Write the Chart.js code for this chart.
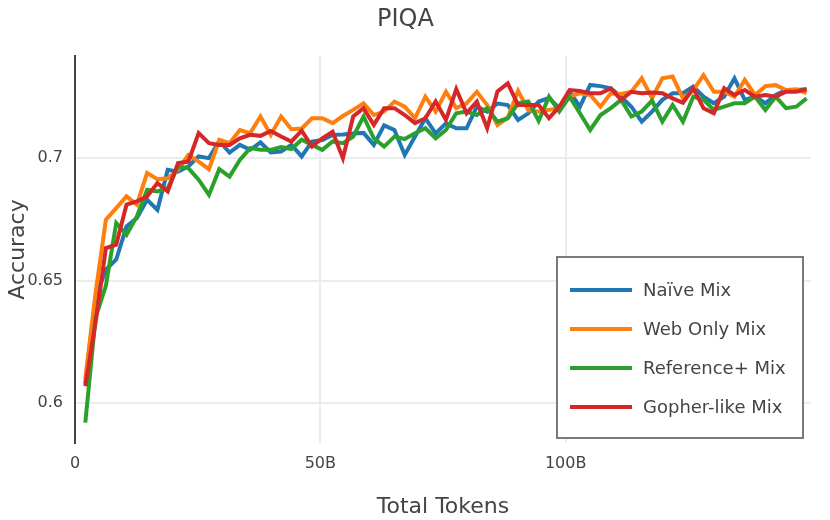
<!DOCTYPE html>
<html>
<head>
<meta charset="utf-8">
<script src="https://cdn.jsdelivr.net/npm/chart.js@4/dist/chart.umd.min.js"></script>
<style>
  html, body { margin: 0; padding: 0; background: #ffffff; }
  #wrap { width: 830px; height: 520px; }
</style>
</head>
<body>
<div id="wrap"><canvas id="c" width="830" height="520"></canvas></div>
<script>
const chartTitle = 'PIQA';
const xTitle = 'Total Tokens';
const yTitle = 'Accuracy';
const seriesNames = ['Naïve Mix', 'Web Only Mix', 'Reference+ Mix', 'Gopher-like Mix'];
const seriesColors = ['#1f77b4', '#ff7f0e', '#2ca02c', '#d62728'];

// Total tokens (billions) at each evaluation checkpoint
const tokens = [2.1, 4.2, 6.3, 8.4, 10.5, 12.6, 14.7, 16.8, 18.9, 21.0,
  23.1, 25.2, 27.3, 29.4, 31.5, 33.6, 35.7, 37.8, 39.9, 42.0,
  44.1, 46.2, 48.3, 50.4, 52.5, 54.6, 56.7, 58.8, 60.9, 63.0,
  65.1, 67.2, 69.3, 71.4, 73.5, 75.6, 77.7, 79.8, 81.9, 84.0,
  86.1, 88.2, 90.3, 92.4, 94.5, 96.6, 98.7, 100.8, 102.9, 105.0,
  107.1, 109.2, 111.3, 113.4, 115.5, 117.6, 119.7, 121.8, 123.9, 126.0,
  128.1, 130.2, 132.3, 134.4, 136.5, 138.6, 140.7, 142.8, 144.9, 147.0, 149.1];

const naiveMix = [0.608, 0.643, 0.6545, 0.6586, 0.6721, 0.6755, 0.683, 0.6789, 0.6952, 0.6945,
  0.6966, 0.7007, 0.700, 0.707, 0.7023, 0.7054, 0.7034, 0.7064, 0.7023, 0.7027,
  0.7054, 0.7007, 0.7068, 0.7074, 0.7095, 0.7097, 0.7101, 0.7103, 0.7054, 0.7134,
  0.7115, 0.7013, 0.7088, 0.7163, 0.7101, 0.7142, 0.7122, 0.7122, 0.721, 0.719,
  0.7223, 0.7217, 0.7156, 0.7183, 0.7231, 0.7245, 0.7204, 0.7271, 0.721, 0.7299,
  0.7294, 0.7285, 0.7251, 0.721, 0.7149, 0.719, 0.7238, 0.7265, 0.7265, 0.7292,
  0.7251, 0.7224, 0.7251, 0.7326, 0.7238, 0.7251, 0.7224, 0.7258, 0.7278, 0.7278, 0.7281];

const webOnlyMix = [0.610, 0.645, 0.6749, 0.6796, 0.6844, 0.681, 0.6939, 0.6914, 0.6918, 0.6952,
  0.7013, 0.6986, 0.6955, 0.7075, 0.7061, 0.7115, 0.7102, 0.717, 0.7095, 0.717,
  0.7118, 0.7121, 0.7163, 0.7163, 0.7143, 0.7172, 0.7197, 0.7224, 0.7176, 0.719,
  0.7231, 0.721, 0.7163, 0.7251, 0.719, 0.7271, 0.7204, 0.7224, 0.7271, 0.7217,
  0.7135, 0.7165, 0.7275, 0.7195, 0.719, 0.7197, 0.7204, 0.7251, 0.7265, 0.7258,
  0.721, 0.7265, 0.7262, 0.7271, 0.7326, 0.7245, 0.7326, 0.7333, 0.7244, 0.7278,
  0.7339, 0.7271, 0.7271, 0.7251, 0.7319, 0.7258, 0.7294, 0.7298, 0.7278, 0.7281, 0.7265];

const referencePlusMix = [0.592, 0.635, 0.648, 0.6735, 0.6687, 0.6762, 0.6871, 0.6864, 0.6878, 0.6966,
  0.6959, 0.6912, 0.685, 0.6955, 0.6925, 0.6993, 0.7041, 0.7034, 0.7034, 0.7045,
  0.7037, 0.7075, 0.7054, 0.7034, 0.7068, 0.7061, 0.7088, 0.717, 0.7081, 0.7047,
  0.7088, 0.7078, 0.7102, 0.7122, 0.7081, 0.7115, 0.7183, 0.719, 0.7176, 0.7204,
  0.7149, 0.7163, 0.7224, 0.7231, 0.7152, 0.7251, 0.719, 0.7251, 0.7183, 0.7115,
  0.7176, 0.7204, 0.7238, 0.717, 0.719, 0.7235, 0.7149, 0.7217, 0.7149, 0.7251,
  0.7238, 0.7197, 0.721, 0.7224, 0.7224, 0.7251, 0.7197, 0.7251, 0.7204, 0.721, 0.7244];

const gopherLikeMix = [0.6069, 0.633, 0.6633, 0.6647, 0.681, 0.6823, 0.6844, 0.6898, 0.6864, 0.698,
  0.6986, 0.7102, 0.7061, 0.7054, 0.7054, 0.7081, 0.7095, 0.7091, 0.7111, 0.7088,
  0.7068, 0.7112, 0.7047, 0.7081, 0.7108, 0.700, 0.717, 0.7204, 0.7136, 0.7204,
  0.7204, 0.7176, 0.7143, 0.7163, 0.7231, 0.7156, 0.7282, 0.7183, 0.7231, 0.7122,
  0.7272, 0.7305, 0.7217, 0.7217, 0.7217, 0.7163, 0.721, 0.7278, 0.7274, 0.7265,
  0.7265, 0.7285, 0.7238, 0.7271, 0.7265, 0.7268, 0.7265, 0.7244, 0.7226, 0.7285,
  0.7204, 0.7183, 0.7285, 0.7258, 0.7278, 0.7251, 0.7258, 0.7251, 0.7271, 0.7271, 0.7281];

const xTickValues = [0, 50, 100];
const xTickLabels = ['0', '50B', '100B'];
const yTickValues = [0.6, 0.65, 0.7];
const yTickLabels = ['0.6', '0.65', '0.7'];

const allSeries = [naiveMix, webOnlyMix, referencePlusMix, gopherLikeMix];

Chart.defaults.font.family = '"DejaVu Sans", Verdana, sans-serif';
Chart.defaults.color = '#444444';

const datasets = allSeries.map((vals, k) => ({
  label: seriesNames[k],
  data: vals.map((v, i) => ({ x: tokens[i], y: v })),
  borderColor: seriesColors[k],
  backgroundColor: seriesColors[k],
  borderWidth: 4,
  pointRadius: 0,
  tension: 0,
  fill: false,
  order: allSeries.length - 1 - k
}));

const boxLegend = {
  id: 'boxLegend',
  afterDraw(chart) {
    const ctx = chart.ctx;
    const bx = 557, by = 257, bw = 246, bh = 181;
    ctx.save();
    ctx.fillStyle = '#ffffff';
    ctx.fillRect(bx, by, bw, bh);
    ctx.strokeStyle = '#7a7a7a';
    ctx.lineWidth = 2;
    ctx.strokeRect(bx, by, bw, bh);
    ctx.font = '18px "DejaVu Sans", Verdana, sans-serif';
    ctx.textBaseline = 'middle';
    ctx.textAlign = 'left';
    seriesNames.forEach((name, k) => {
      const y = 290 + 39 * k;
      ctx.strokeStyle = seriesColors[k];
      ctx.lineWidth = 4;
      ctx.beginPath();
      ctx.moveTo(570, y);
      ctx.lineTo(632, y);
      ctx.stroke();
      ctx.fillStyle = '#444444';
      ctx.fillText(name, 643, y + 1);
    });
    ctx.restore();
  }
};

new Chart(document.getElementById('c'), {
  type: 'line',
  data: { datasets },
  plugins: [boxLegend],
  options: {
    responsive: false,
    animation: false,
    layout: { padding: { left: 0, right: 19, top: 0, bottom: 0 } },
    plugins: {
      legend: { display: false },
      tooltip: { enabled: false },
      title: {
        display: true,
        text: chartTitle,
        color: '#444444',
        font: { size: 24, weight: 'normal' },
        padding: { top: 5, bottom: 22.2 }
      }
    },
    scales: {
      x: {
        type: 'linear',
        min: 0,
        max: 150,
        afterBuildTicks: (scale) => { scale.ticks = xTickValues.map(v => ({ value: v })); },
        afterFit: (scale) => { scale.height = 77; },
        ticks: {
          callback: (v) => xTickLabels[xTickValues.indexOf(v)],
          font: { size: 16 },
          color: '#444444',
          padding: 11,
          maxRotation: 0
        },
        grid: { color: '#ececec', lineWidth: 2, drawTicks: false },
        border: { display: false },
        title: {
          display: true,
          text: xTitle,
          color: '#444444',
          font: { size: 22 },
          padding: { top: 0, bottom: 0 }
        }
      },
      y: {
        type: 'linear',
        min: 0.5837,
        max: 0.7417,
        afterBuildTicks: (scale) => { scale.ticks = yTickValues.map(v => ({ value: v })); },
        afterFit: (scale) => { scale.width = 75; },
        ticks: {
          callback: (v) => yTickLabels[yTickValues.indexOf(v)],
          font: { size: 16 },
          color: '#444444',
          padding: 12
        },
        grid: { color: '#ececec', lineWidth: 2, drawTicks: false },
        border: { display: true, color: '#444444', width: 2 },
        title: {
          display: true,
          text: yTitle,
          color: '#444444',
          font: { size: 22 },
          padding: { top: 5, bottom: 0 }
        }
      }
    }
  }
});
</script>
</body>
</html>
